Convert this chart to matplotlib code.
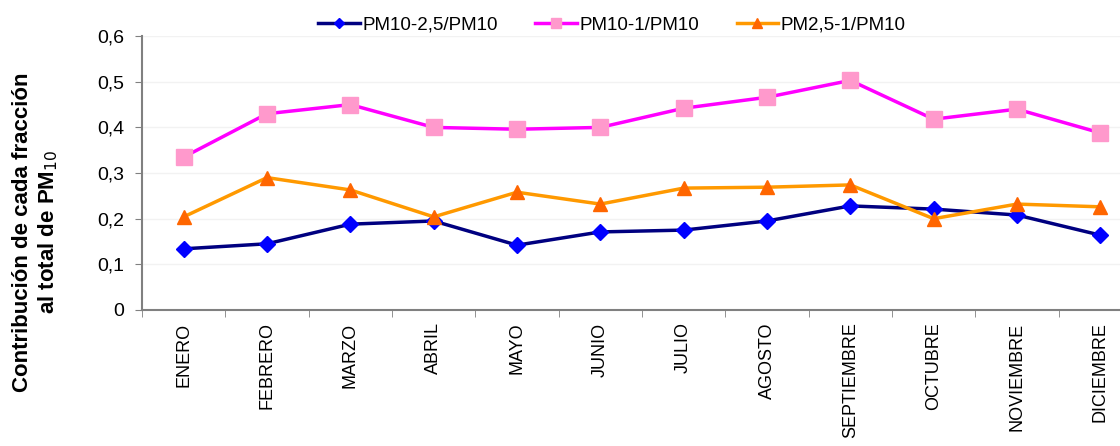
import numpy as np
import matplotlib.pyplot as plt

plt.rcParams['font.family'] = ['Liberation Sans', 'DejaVu Sans']

meses = ['ENERO', 'FEBRERO', 'MARZO', 'ABRIL', 'MAYO', 'JUNIO', 'JULIO',
         'AGOSTO', 'SEPTIEMBRE', 'OCTUBRE', 'NOVIEMBRE', 'DICIEMBRE']
pm10_25 = [0.134, 0.145, 0.188, 0.195, 0.142, 0.171, 0.175, 0.195, 0.228, 0.221, 0.208, 0.164]
pm10_1 = [0.335, 0.430, 0.450, 0.400, 0.396, 0.400, 0.442, 0.466, 0.503, 0.418, 0.440, 0.388]
pm25_1 = [0.204, 0.290, 0.263, 0.204, 0.258, 0.232, 0.267, 0.269, 0.274, 0.200, 0.232, 0.226]

fig = plt.figure(figsize=(11.2, 4.46), dpi=100)
ax = fig.add_axes([0.1268, 0.305, 0.8928, 0.614])

x = np.arange(len(meses))
ax.plot(x, pm10_25, color='#000080', lw=2.5, marker='D', ms=8,
        mfc='#0000FF', mec='#0000FF', label='PM10-2,5/PM10')
ax.plot(x, pm10_1, color='#FF00FF', lw=2.5, marker='s', ms=11,
        mfc='#FF99CC', mec='#FF99CC', label='PM10-1/PM10')
ax.plot(x, pm25_1, color='#FF9900', lw=2.5, marker='^', ms=10,
        mfc='#FF6600', mec='#FF6600', label='PM2,5-1/PM10')

ax.set_xlim(-0.5, len(meses) - 0.5)
ax.set_ylim(0, 0.6)
ax.set_yticks(np.arange(0, 0.61, 0.1))
ax.set_yticklabels(['0', '0,1', '0,2', '0,3', '0,4', '0,5', '0,6'], fontsize=14)
ax.set_xticks(x)
ax.set_xticklabels(meses, rotation=90, fontsize=13, va='top')
ax.set_xticks(np.arange(-0.5, len(meses), 1), minor=True)
ax.tick_params(axis='x', which='major', length=0, pad=9)
ax.tick_params(axis='x', which='minor', length=5, color='#808080')
ax.tick_params(axis='y', length=5, color='#808080', pad=8)

ax.grid(axis='y', color='#f2f2f2', lw=1)
ax.set_axisbelow(True)
for s in ['top', 'right']:
    ax.spines[s].set_visible(False)
for s in ['left', 'bottom']:
    ax.spines[s].set_color('#808080')
    ax.spines[s].set_linewidth(1.5)

fig.text(0.032, 0.48, 'Contribución de cada fracción\nal total de PM$_{10}$',
         fontsize=16, fontweight='bold', rotation=90, ha='center', va='center',
         multialignment='center')

ax.legend(loc='center', bbox_to_anchor=(0.47, 1.04), ncol=3,
          frameon=False, fontsize=13.5, handlelength=2.2, handletextpad=0.15,
          columnspacing=2.0, markerscale=0.7, borderaxespad=0)

fig.savefig('out.png', dpi=100)
